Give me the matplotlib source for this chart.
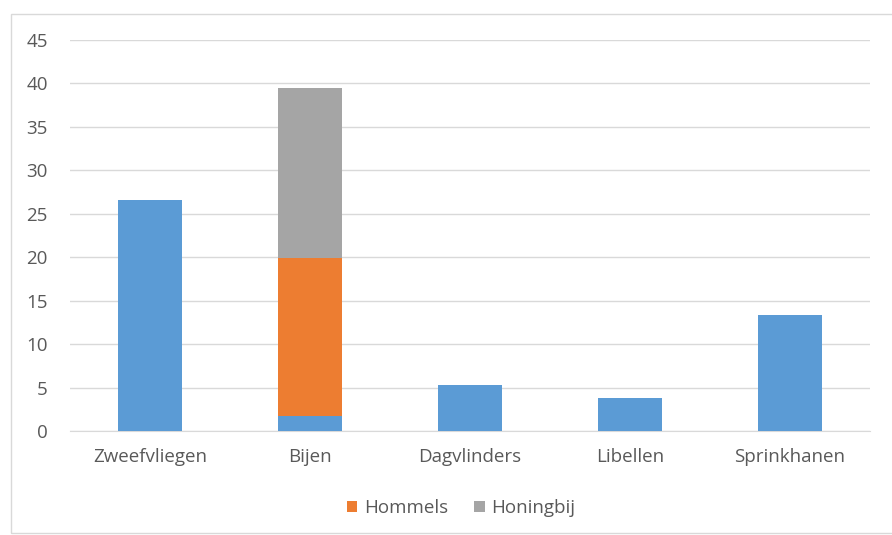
import numpy as np
import matplotlib.pyplot as plt
from matplotlib.patches import Rectangle

categories = ['Zweefvliegen', 'Bijen', 'Dagvlinders', 'Libellen', 'Sprinkhanen']
overig = [26.6, 1.7, 5.3, 3.8, 13.4]
hommels = [0, 18.2, 0, 0, 0]
honingbij = [0, 19.6, 0, 0, 0]
yticks = list(range(0, 50, 5))

blue = '#5B9BD5'
orange = '#ED7D31'
gray = '#A5A5A5'
txt = '#595959'

plt.rcParams['font.family'] = ['Open Sans', 'DejaVu Sans']

fig = plt.figure(figsize=(8.92, 5.35), dpi=100)
ax = fig.add_axes([70/892, 1 - 431/535, (870 - 70)/892, (431 - 40)/535])

x = np.arange(len(categories))
w = 0.4
ax.bar(x, overig, w, color=blue, zorder=3)
ax.bar(x, hommels, w, bottom=overig, color=orange, label='Hommels', zorder=3)
bottom2 = np.array(overig) + np.array(hommels)
ax.bar(x, honingbij, w, bottom=bottom2, color=gray, label='Honingbij', zorder=3)

ax.set_xlim(-0.5, len(categories) - 0.5)
ax.set_ylim(0, 45)
ax.set_yticks(yticks)
ax.set_xticks(x)
ax.set_xticklabels(categories)
ax.grid(axis='y', color='#d9d9d9', linewidth=1, zorder=0)
for s in ['top', 'left', 'right']:
    ax.spines[s].set_visible(False)
ax.spines['bottom'].set_color('#d9d9d9')
ax.tick_params(length=0, colors=txt, labelsize=13.5)
ax.tick_params(axis='x', pad=12)
ax.tick_params(axis='y', pad=16)

leg = fig.legend(loc='center', bbox_to_anchor=(461/892, 1 - 508/535), ncol=2,
                 frameon=False, fontsize=13.5, handlelength=0.55, handleheight=0.55,
                 columnspacing=1.4, handletextpad=0.35)
for t in leg.get_texts():
    t.set_color(txt)

fig.patches.append(Rectangle((11/892, 2/535), 1.2, 1 - 16/535, transform=fig.transFigure,
                             fill=False, edgecolor='#d9d9d9', linewidth=1))

fig.savefig('out.png', dpi=100)
